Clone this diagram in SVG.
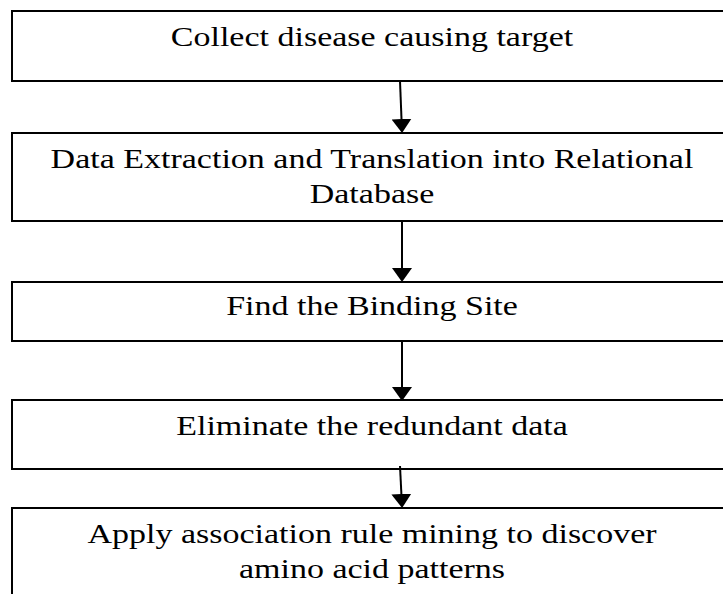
<svg xmlns="http://www.w3.org/2000/svg" width="723" height="594" viewBox="0 0 723 594">
  <style>
    .box { fill: #ffffff; stroke: #000000; stroke-width: 2; }
    .lbl { font-family: "Liberation Serif", "Times New Roman", serif; font-size: 34px; fill: #000000; text-anchor: middle; }
    .conn { stroke: #000000; stroke-width: 2; fill: none; marker-end: url(#arrow); }
  </style>
  <defs>
    <marker id="arrow" markerUnits="userSpaceOnUse" viewBox="0 0 14 20" refX="0" refY="10" markerWidth="14" markerHeight="20" orient="auto">
      <path d="M0,0 L14,10 L0,20 z" fill="#000000"/>
    </marker>
  </defs>
  <rect width="723" height="594" fill="#ffffff"/>

  <g id="node-collect">
    <rect class="box" x="12" y="11" width="720" height="70"/>
    <text class="lbl" transform="translate(372,46) scale(1,0.79)">Collect disease causing target</text>
  </g>

  <g id="node-extract">
    <rect class="box" x="12" y="133" width="720" height="88"/>
    <text class="lbl" transform="translate(372,168) scale(1,0.79)">Data Extraction and Translation into Relational</text>
    <text class="lbl" transform="translate(372,203) scale(1,0.79)">Database</text>
  </g>

  <g id="node-binding">
    <rect class="box" x="12" y="282" width="720" height="59"/>
    <text class="lbl" transform="translate(372,315) scale(1,0.79)">Find the Binding Site</text>
  </g>

  <g id="node-eliminate">
    <rect class="box" x="12" y="400" width="720" height="69"/>
    <text class="lbl" transform="translate(372,435) scale(1,0.79)">Eliminate the redundant data</text>
  </g>

  <g id="node-apply">
    <rect class="box" x="12" y="508" width="720" height="100"/>
    <text class="lbl" transform="translate(372,543) scale(1,0.79)">Apply association rule mining to discover</text>
    <text class="lbl" transform="translate(372,578) scale(1,0.79)">amino acid patterns</text>
  </g>

  <g id="connectors">
    <line class="conn" x1="400" y1="81" x2="401.5" y2="119"/>
    <line class="conn" x1="402" y1="221" x2="402" y2="268"/>
    <line class="conn" x1="402" y1="341" x2="402" y2="387"/>
    <line class="conn" x1="400" y1="466" x2="401.4" y2="494"/>
  </g>
</svg>
